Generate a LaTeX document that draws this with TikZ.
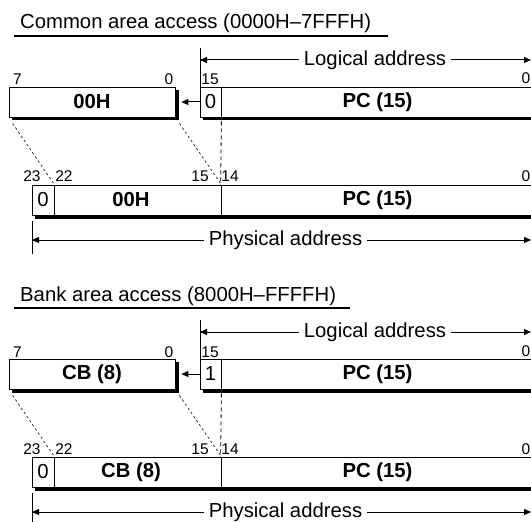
\documentclass[tikz,border=0pt]{standalone}
\usepackage{fontspec}
\setmainfont{Liberation Sans}
\usetikzlibrary{arrows.meta,calc}
\tikzset{
  cell/.style={draw=black, line width=0.8bp, fill=white, inner sep=0pt, minimum height=30bp},
  big/.style={font=\fontsize{20.3bp}{24bp}\selectfont},
  bold/.style={font=\fontsize{20.3bp}{24bp}\selectfont\bfseries},
  bitlbl/.style={font=\fontsize{15.5bp}{18bp}\selectfont, inner sep=0pt, anchor=base},
  arr/.style={line width=1bp, -{Triangle[length=7bp,width=6bp]}},
  tick/.style={line width=0.8bp},
  dotline/.style={line width=0.7bp, dash pattern=on 2.5bp off 2.5bp, black!85},
  vdash/.style={line width=0.8bp, dash pattern=on 4bp off 3bp},
  gaplabel/.style={big, fill=white, inner xsep=5bp, inner ysep=1bp},
  shadowbox/.style={fill=black},
}
\newcommand\drawpart[6]{%
\begin{scope}[yshift=-#2bp]
  % title
  \node[big, anchor=base west, inner sep=0pt] (#1title) at (20,29) {#3};
  \coordinate (#1ula) at (14,36);
  \coordinate (#1ulb) at (#4,36);
  \draw[line width=1.5bp] (#1ula) -- (#1ulb);
  % logical address dimension
  \coordinate (#1ltop) at (200,48);
  \coordinate (#1lbot) at (200,87);
  \coordinate (#1lleft) at (200,60);
  \coordinate (#1lright) at (531,60);
  \draw[tick] (#1ltop) -- (#1lbot);
  \node[gaplabel] (#1llabel) at (375,60) {Logical address};
  \draw[arr] (#1llabel.west) -- (#1lleft);
  \draw[arr] (#1llabel.east) -- (#1lright);
  % shadows
  \path[shadowbox] (12,90) rectangle (179,120.5);
  \path[shadowbox] (203,90) rectangle (540,120.5);
  \path[shadowbox] (35,188) rectangle (540,218.5);
  % high byte register
  \node[cell, bold, minimum width=166bp] (#1hb) at (92,102) {#5};
  % logical address register
  \node[cell, big, minimum width=21bp] (#1lbit) at (210.5,102) {#6};
  \node[cell, bold, minimum width=313bp] (#1lpc) at (377.5,102) {PC (15)};
  % physical address register
  \node[cell, big, minimum width=22bp] (#1pz) at (43,200) {0};
  \node[cell, bold, minimum width=167bp] (#1phb) at (137.5,200) {\hspace*{-13bp}#5};
  \node[cell, bold, minimum width=313bp] (#1ppc) at (377.5,200) {PC (15)};
  % bit labels
  \node[bitlbl] (#1b7) at (17.5,85) {7};
  \node[bitlbl] (#1b0) at (169,85) {0};
  \node[bitlbl] (#1b15) at (210,85) {15};
  \node[bitlbl] (#1bl0) at (526,84) {0};
  \node[bitlbl] (#1p23) at (32,182) {23};
  \node[bitlbl] (#1p22) at (64,182) {22};
  \node[bitlbl] (#1p15) at (200,182) {15};
  \node[bitlbl] (#1p14) at (230,182) {14};
  \node[bitlbl] (#1pl0) at (526,182) {0};
  % transfer arrow
  \draw[arr, shorten >=6bp] (#1lbit.west) -- (#1hb.east);
  % mapping lines
  \draw[dotline] ($(#1hb.south west)+(4,6)$) -- (#1pz.north east);
  \draw[dotline] ($(#1hb.south east)+(4,6)$) -- (#1phb.north east);
  \draw[vdash] ($(#1lbit.south east)+(0,4)$) -- (#1ppc.north west);
  % physical address dimension
  \coordinate (#1ptop) at (32,221);
  \coordinate (#1pbot) at (32,254);
  \coordinate (#1pleft) at (32,240);
  \coordinate (#1pright) at (531,240);
  \draw[tick] (#1ptop) -- (#1pbot);
  \node[gaplabel] (#1plabel) at (285.5,240) {Physical address};
  \draw[arr] (#1plabel.west) -- (#1pleft);
  \draw[arr] (#1plabel.east) -- (#1pright);
\end{scope}}
\begin{document}
\begin{tikzpicture}[x=1bp,y=-1bp]
  \path[use as bounding box] (0,0) rectangle (531,522);
  \drawpart{c}{0}{Common area access (0000H–7FFFH)}{388}{00H}{0}
  \drawpart{b}{272}{Bank area access (8000H–FFFFH)}{350}{CB (8)}{1}
\end{tikzpicture}
\end{document}
